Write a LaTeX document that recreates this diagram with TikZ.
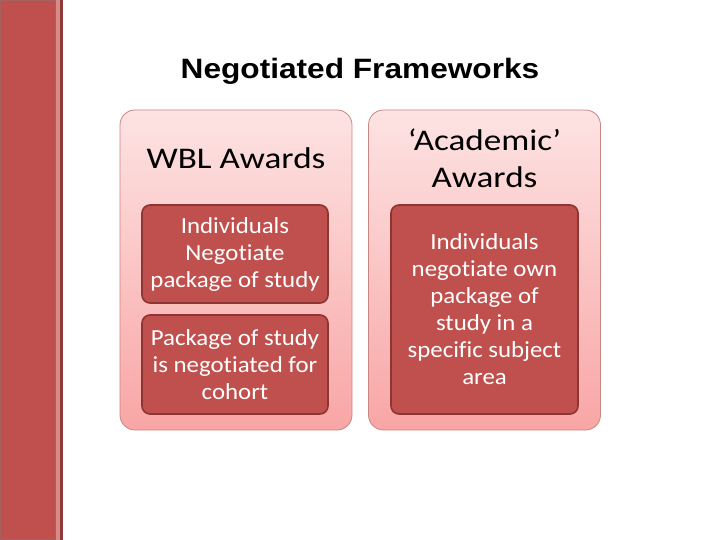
\documentclass[tikz,border=0pt]{standalone}
\usepackage{fontspec}
\setmainfont{Carlito}[Ligatures=NoCommon, FakeStretch=1.08]
\newfontfamily\headfont{Carlito}[Ligatures=NoCommon, FakeStretch=1.17]
\newfontfamily\titlefont{Liberation Sans}[FakeStretch=1.13]
\usetikzlibrary{positioning}
\definecolor{barred}{HTML}{C0504D}
\definecolor{barlight}{HTML}{D68B89}
\definecolor{bardark}{HTML}{8E3A38}
\definecolor{panetop}{HTML}{FDE3E3}
\definecolor{panebottom}{HTML}{F8A6A5}
\definecolor{paneline}{HTML}{C98584}
\definecolor{cardline}{HTML}{8C3533}

\begin{document}
\begin{tikzpicture}[x=1bp, y=-1bp,
    every node/.style={align=center, inner sep=0pt},
    pane/.style={draw=paneline, line width=0.8bp, rounded corners=15bp, top color=panetop, bottom color=panebottom, minimum width=232bp, minimum height=320bp},
    card/.style={draw=cardline, line width=1.6bp, rounded corners=8bp, fill=barred, text=white, minimum width=186bp, font=\fontsize{23bp}{27bp}\selectfont},
    heading/.style={font=\headfont\fontsize{30bp}{37bp}\selectfont}]
    \useasboundingbox (0,0) rectangle (720,540);
    % side bar
    \fill[barred] (0,0) rectangle (56,540);
    \fill[barlight] (56,0) rectangle (60,540);
    \fill[bardark] (60,0) rectangle (63,540);
    \draw[bardark!80, line width=0.6bp] (0.5,0.5) rectangle (55.5,539.5);
    % title
    \node[font=\titlefont\bfseries\fontsize{28bp}{32bp}\selectfont] (title) at (360,71) {Negotiated Frameworks};
    % panes
    \node[pane] (wbl) at (236,270) {};
    \node[pane] (acad) at (484.5,270) {};
    \node[heading] (wblhead) at (236,158) {WBL Awards};
    \node[heading] (acadhead) at (484.5,158) {‘Academic’\\Awards};
    % cards
    \node[card, minimum height=98bp] (indiv) at (235,254) {Individuals\\Negotiate\\package of study};
    \node[card, minimum height=99bp] (cohort) at (235,364.5) {Package of study\\is negotiated for\\cohort};
    \node[card, minimum width=187bp, minimum height=209bp] (own) at (484.5,309.5) {Individuals\\negotiate own\\package of\\study in a\\specific subject\\area};
\end{tikzpicture}
\end{document}
